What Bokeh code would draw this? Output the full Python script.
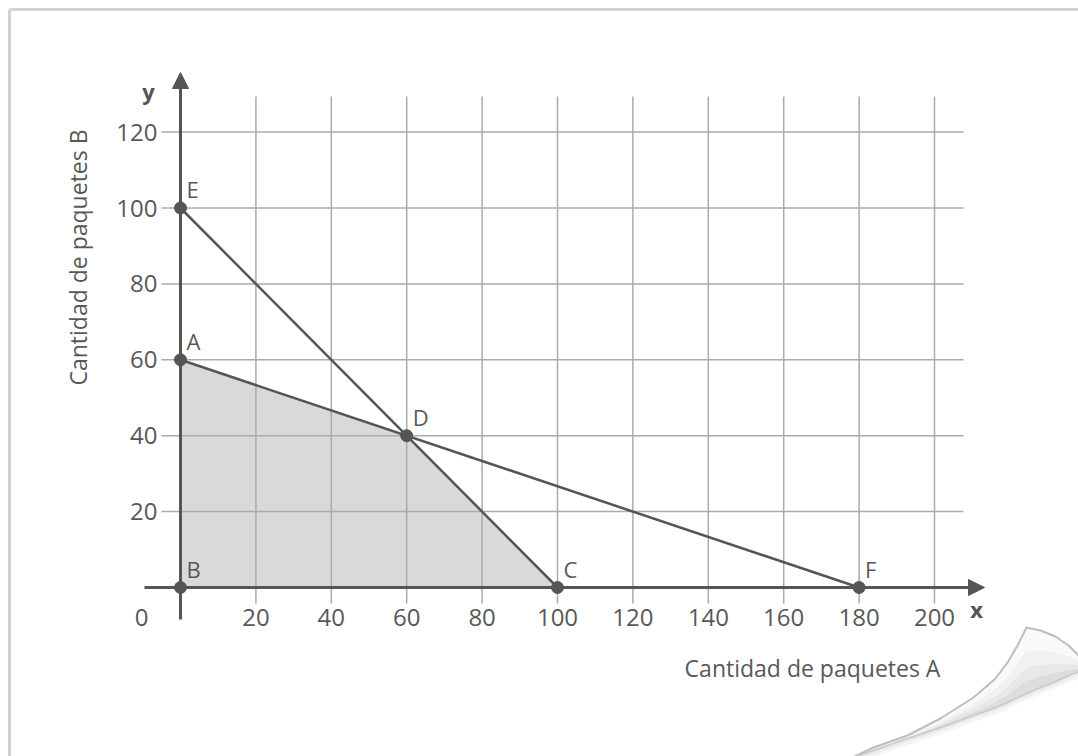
import math
import numpy as np
from bokeh.plotting import figure
from bokeh.models import Arrow, NormalHead
from bokeh.core.properties import value
from bokeh.embed import file_html
from bokeh.resources import INLINE

# ---------------- data ----------------
x_ticks = [20, 40, 60, 80, 100, 120, 140, 160, 180, 200]
y_ticks = [20, 40, 60, 80, 100, 120]
x_tick_labels = ["20", "40", "60", "80", "100", "120", "140", "160", "180", "200"]
y_tick_labels = ["20", "40", "60", "80", "100", "120"]

point_names = ["E", "A", "D", "B", "C", "F"]
point_x = [0, 0, 60, 0, 100, 180]
point_y = [100, 60, 40, 0, 0, 0]

line_ec_x = [0, 100]     # E -> C
line_ec_y = [100, 0]
line_af_x = [0, 180]     # A -> F
line_af_y = [60, 0]

region_x = [0, 0, 60, 100]   # B, A, D, C
region_y = [0, 60, 40, 0]

x_title = "Cantidad de paquetes A"
y_title = "Cantidad de paquetes B"

# ---------------- layout ----------------
W, H = 1078, 756
OX, OY = 180.0, 587.0      # page pixel of the data origin
SX, SY = 3.77, 3.795       # pixels per data unit


def dx(px):
    return (np.asarray(px, dtype=float) - OX) / SX


def dy(py):
    return (OY - np.asarray(py, dtype=float)) / SY


FONT = value("Open Sans")
TXT = "#585858"
DARK = "#555555"
GRID = "#ababab"

p = figure(width=W, height=H,
           x_range=(float(dx(0)), float(dx(W))),
           y_range=(float(dy(H)), float(dy(0))),
           x_axis_type=None, y_axis_type=None,
           toolbar_location=None, output_backend="svg",
           min_border=0, outline_line_color=None,
           background_fill_color="white", border_fill_color="white")
p.grid.visible = False

# page frame (top and left edges visible)
p.segment(x0=dx([9, 9]), y0=dy([9, 9]), x1=dx([1100, 9]), y1=dy([9, 800]),
          line_color="#d2d2d2", line_width=3)

# feasible region
p.patch(region_x, region_y, fill_color="#d9d9d9", line_color=None)

# grid lines
p.segment(x0=x_ticks, y0=[float(dy(603))] * len(x_ticks), x1=x_ticks, y1=[float(dy(96))] * len(x_ticks),
          line_color=GRID, line_width=1.5)
p.segment(x0=[float(dx(161))] * len(y_ticks), y0=y_ticks, x1=[float(dx(963))] * len(y_ticks), y1=y_ticks,
          line_color=GRID, line_width=1.5)

# constraint lines
p.line(line_ec_x, line_ec_y, line_color=DARK, line_width=2.5)
p.line(line_af_x, line_af_y, line_color=DARK, line_width=2.5)

# axes with arrows
p.add_layout(Arrow(x_start=0, y_start=float(dy(619)), x_end=0, y_end=float(dy(72)),
                   line_color=DARK, line_width=3,
                   end=NormalHead(size=16, fill_color=DARK, line_color=DARK, line_width=1)))
p.add_layout(Arrow(x_start=float(dx(144)), y_start=0, x_end=float(dx(984)), y_end=0,
                   line_color=DARK, line_width=3,
                   end=NormalHead(size=16, fill_color=DARK, line_color=DARK, line_width=1)))

# points and their labels
p.scatter(point_x, point_y, size=12, fill_color=DARK, line_color=DARK)
p.text(point_x, point_y, text=point_names, x_offset=6, y_offset=-19,
       text_align="left", text_baseline="middle",
       text_font=FONT, text_font_size="22px", text_color=TXT)

# tick labels
p.text([0] * len(y_ticks), y_ticks, text=y_tick_labels, x_offset=-23,
       text_align="right", text_baseline="middle",
       text_font=FONT, text_font_size="24px", text_color=TXT)
p.text(x_ticks, [0] * len(x_ticks), text=x_tick_labels, y_offset=30,
       text_align="center", text_baseline="middle",
       text_font=FONT, text_font_size="24px", text_color=TXT)
p.text([0], [0], text=["0"], x_offset=-39, y_offset=30,
       text_align="center", text_baseline="middle",
       text_font=FONT, text_font_size="24px", text_color=TXT)

# axis letters
p.text([0], [float(dy(72))], text=["y"], x_offset=-32, y_offset=18,
       text_align="center", text_baseline="middle", text_font_style="bold",
       text_font=FONT, text_font_size="22px", text_color=DARK)
p.text([float(dx(984))], [0], text=["x"], x_offset=-8, y_offset=21,
       text_align="center", text_baseline="middle", text_font_style="bold",
       text_font=FONT, text_font_size="22px", text_color=DARK)

# axis titles
p.text([float(dx(812))], [float(dy(667))], text=[x_title], text_align="center", text_baseline="middle",
       text_font=FONT, text_font_size="23px", text_color=TXT)
p.text([float(dx(77))], [float(dy(257))], text=[y_title], angle=math.pi / 2,
       text_align="center", text_baseline="middle",
       text_font=FONT, text_font_size="23px", text_color=TXT)

# ---------- page curl decoration (bottom right corner) ----------
cx = np.array([852, 873, 907, 940, 973, 995, 1007, 1017, 1026, 1040, 1055, 1068, 1078, 1090])
c_top = np.array([757, 747, 735, 718, 697, 678, 662, 645, 627, 630, 636, 645, 655, 664])
c_bot = np.array([757, 750, 738, 727, 715, 707, 702, 697, 693, 687, 681, 675, 671, 667])

# soft shadow under the flap
for off, col in [(7, "#f6f6f6"), (4, "#eeeeee"), (2, "#e6e6e6")]:
    xs = np.concatenate([cx, cx[::-1]])
    ys = np.concatenate([c_bot, (c_bot + off)[::-1]])
    p.patch(dx(xs), dy(ys), fill_color=col, line_color=None)

# flap body shaded from the fold (light) to the lower edge (darker)
bands = [(0.0, 0.35, "#f9f9f9"), (0.35, 0.6, "#f1f1f1"), (0.6, 0.8, "#e8e8e8"), (0.8, 1.0, "#dddddd")]
for t0, t1, col in bands:
    ya = c_top + t0 * (c_bot - c_top)
    yb = c_top + t1 * (c_bot - c_top)
    xs = np.concatenate([cx, cx[::-1]])
    ys = np.concatenate([ya, yb[::-1]])
    p.patch(dx(xs), dy(ys), fill_color=col, line_color=None)

p.line(dx(cx), dy(c_top), line_color="#bdbdbd", line_width=2)
p.line(dx(cx), dy(c_bot), line_color="#cacaca", line_width=1.5)

open("out.html", "w").write(file_html(p, INLINE))
